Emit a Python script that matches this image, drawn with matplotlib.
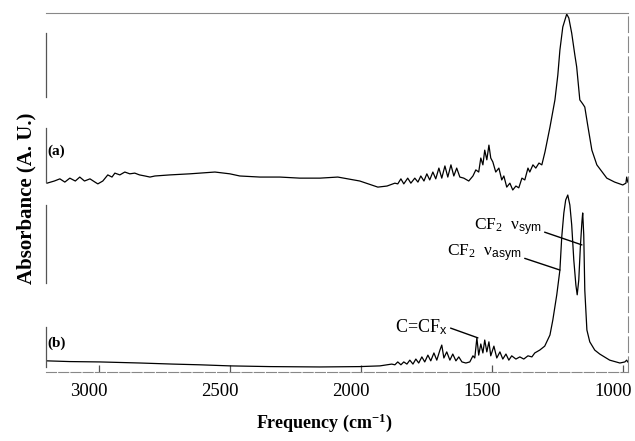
import matplotlib
matplotlib.use("Agg")
import matplotlib.pyplot as plt
import matplotlib.transforms as mtransforms
import numpy as np

# wavenumber (cm-1) / absorbance (A.U.) pairs for the two spectra
freq_a = [3198, 3170, 3149, 3130, 3111, 3090, 3073, 3055, 3034, 3015, 3004, 2985,
          2966, 2950, 2939, 2920, 2901, 2882, 2863, 2845, 2824, 2805, 2786, 2729,
          2653, 2557, 2500, 2462, 2385, 2309, 2233, 2156, 2088, 2004, 1935, 1900,
          1870, 1859, 1847, 1836, 1821, 1809, 1794, 1782, 1771, 1759, 1748, 1737,
          1725, 1714, 1702, 1691, 1679, 1668, 1656, 1645, 1634, 1622, 1607, 1588,
          1572, 1561, 1550, 1542, 1534, 1527, 1519, 1511, 1504, 1496, 1485, 1473,
          1462, 1454, 1443, 1431, 1420, 1408, 1397, 1385, 1374, 1362, 1355, 1343,
          1332, 1320, 1309, 1297, 1278, 1259, 1248, 1240, 1229, 1214, 1206, 1195,
          1183, 1176, 1164, 1153, 1145, 1134, 1118, 1099, 1061, 1031, 1000, 988,
          985, 981]
abs_a = [0.026, 0.032, 0.038, 0.029, 0.040, 0.032, 0.043, 0.032, 0.038, 0.029, 0.024, 0.032,
         0.049, 0.043, 0.054, 0.049, 0.057, 0.052, 0.054, 0.049, 0.046, 0.043, 0.046, 0.049,
         0.052, 0.057, 0.052, 0.046, 0.043, 0.043, 0.040, 0.040, 0.043, 0.032, 0.015, 0.018,
         0.026, 0.024, 0.038, 0.024, 0.040, 0.026, 0.040, 0.029, 0.046, 0.032, 0.052, 0.035,
         0.057, 0.038, 0.068, 0.040, 0.074, 0.043, 0.077, 0.046, 0.068, 0.043, 0.040, 0.032,
         0.046, 0.063, 0.057, 0.096, 0.077, 0.118, 0.091, 0.132, 0.096, 0.085, 0.057, 0.068,
         0.035, 0.046, 0.015, 0.026, 0.007, 0.018, 0.013, 0.040, 0.035, 0.068, 0.057, 0.077,
         0.068, 0.082, 0.077, 0.113, 0.182, 0.258, 0.327, 0.397, 0.461, 0.497, 0.486, 0.444,
         0.383, 0.350, 0.258, 0.247, 0.238, 0.188, 0.118, 0.077, 0.040, 0.029, 0.021, 0.026,
         0.043, 0.029]

freq_b = [3198, 3111, 2996, 2843, 2718, 2614, 2500, 2347, 2156, 2004, 1927, 1882,
          1870, 1859, 1847, 1836, 1824, 1813, 1801, 1790, 1779, 1767, 1756, 1744,
          1733, 1721, 1710, 1698, 1691, 1683, 1672, 1660, 1649, 1637, 1626, 1614,
          1599, 1584, 1572, 1565, 1557, 1550, 1542, 1534, 1527, 1519, 1511, 1504,
          1492, 1481, 1469, 1458, 1446, 1435, 1424, 1408, 1393, 1378, 1362, 1347,
          1336, 1317, 1298, 1278, 1267, 1252, 1240, 1233, 1225, 1218, 1210, 1202,
          1195, 1187, 1179, 1174, 1168, 1162, 1156, 1153, 1149, 1145, 1137, 1126,
          1107, 1088, 1050, 1011, 992, 985, 981]
abs_b = [0.031, 0.029, 0.028, 0.025, 0.022, 0.020, 0.017, 0.015, 0.014, 0.015, 0.017, 0.022,
         0.020, 0.028, 0.020, 0.028, 0.022, 0.033, 0.022, 0.036, 0.025, 0.042, 0.028, 0.047,
         0.031, 0.053, 0.033, 0.061, 0.075, 0.039, 0.056, 0.033, 0.050, 0.031, 0.042, 0.028,
         0.025, 0.028, 0.045, 0.039, 0.095, 0.047, 0.078, 0.053, 0.089, 0.056, 0.084, 0.045,
         0.072, 0.039, 0.056, 0.036, 0.050, 0.033, 0.045, 0.036, 0.042, 0.036, 0.045, 0.042,
         0.053, 0.061, 0.072, 0.103, 0.145, 0.215, 0.284, 0.376, 0.443, 0.479, 0.493, 0.465,
         0.410, 0.312, 0.242, 0.215, 0.256, 0.348, 0.418, 0.443, 0.382, 0.228, 0.117, 0.084,
         0.061, 0.050, 0.033, 0.025, 0.028, 0.033, 0.028]

x_ticks = [3000, 2500, 2000, 1500, 1000]

plt.rcParams["font.family"] = ["Liberation Serif", "DejaVu Serif"]
plt.rcParams["mathtext.fontset"] = "custom"
plt.rcParams["mathtext.rm"] = "Liberation Serif"
plt.rcParams["mathtext.it"] = "Liberation Serif:italic"
plt.rcParams["mathtext.bf"] = "Liberation Serif:bold"
plt.rcParams["mathtext.sf"] = "Liberation Sans"

fig = plt.figure(figsize=(6.35, 4.41), dpi=100)
ax = fig.add_axes([0.0724, 0.1565, 0.9166, 0.814])

offset_a = 0.5
ax.plot(freq_a, np.array(abs_a) + offset_a, color="black", lw=0.9)
ax.plot(freq_b, abs_b, color="black", lw=0.9)

ax.set_xlim(3202, 980)
ax.set_ylim(0, 1)
ax.set_xticks(x_ticks)
ax.set_yticks([])
ax.tick_params(axis="x", direction="in", length=5, width=0.9, color="#555555",
               labelsize=13.5, pad=8)
# tick labels sit slightly left of their ticks
shift = mtransforms.ScaledTranslation(-0.10, 0, fig.dpi_scale_trans)
for lab in ax.get_xticklabels():
    lab.set_transform(lab.get_transform() + shift)

# faded scan-like frame
for side in ("top", "right", "bottom"):
    ax.spines[side].set_color("#888888")
    ax.spines[side].set_linewidth(0.8)
ax.spines["bottom"].set_linestyle((0, (9, 2)))
ax.spines["right"].set_linestyle((0, (14, 4)))
ax.spines["left"].set_visible(False)
for lo, hi in [(0.766, 0.944), (0.529, 0.680), (0.248, 0.465), (0.014, 0.125)]:
    ax.axvline(3202, ymin=lo, ymax=hi, color="#555555", lw=0.9, clip_on=False)

ax.text(0.002, 0.614, "(a)", transform=ax.transAxes, fontsize=11,
        fontweight="bold", va="center", ha="left")
ax.text(0.002, 0.079, "(b)", transform=ax.transAxes, fontsize=11,
        fontweight="bold", va="center", ha="left")

line_kw = dict(arrowstyle="-", lw=1.0, color="black", shrinkA=0, shrinkB=0)
ax.annotate("CF$_2$  ν$_{\\mathsf{sym}}$", xy=(1156, 0.354), xytext=(1309, 0.404),
            ha="right", va="center", fontsize=12.5,
            arrowprops=dict(relpos=(1.0, 0.3), **line_kw))
ax.annotate("CF$_2$  ν$_{\\mathsf{asym}}$", xy=(1240, 0.284), xytext=(1385, 0.331),
            ha="right", va="center", fontsize=12.5,
            arrowprops=dict(relpos=(1.0, 0.3), **line_kw))
ax.annotate("C=CF$_{\\mathsf{x}}$", xy=(1553, 0.095), xytext=(1668, 0.125),
            ha="right", va="center", fontsize=13,
            arrowprops=dict(relpos=(1.0, 0.5), **line_kw))

ax.set_xlabel("Frequency (cm$^{\\mathbf{-1}}$)", fontsize=13, fontweight="bold")
ax.xaxis.set_label_coords(0.478, -0.109)
ax.set_ylabel("Absorbance (A. U.)", fontsize=15, fontweight="bold")
ax.yaxis.set_label_coords(-0.0155, 0.485)

fig.savefig("out.png", dpi=100)
